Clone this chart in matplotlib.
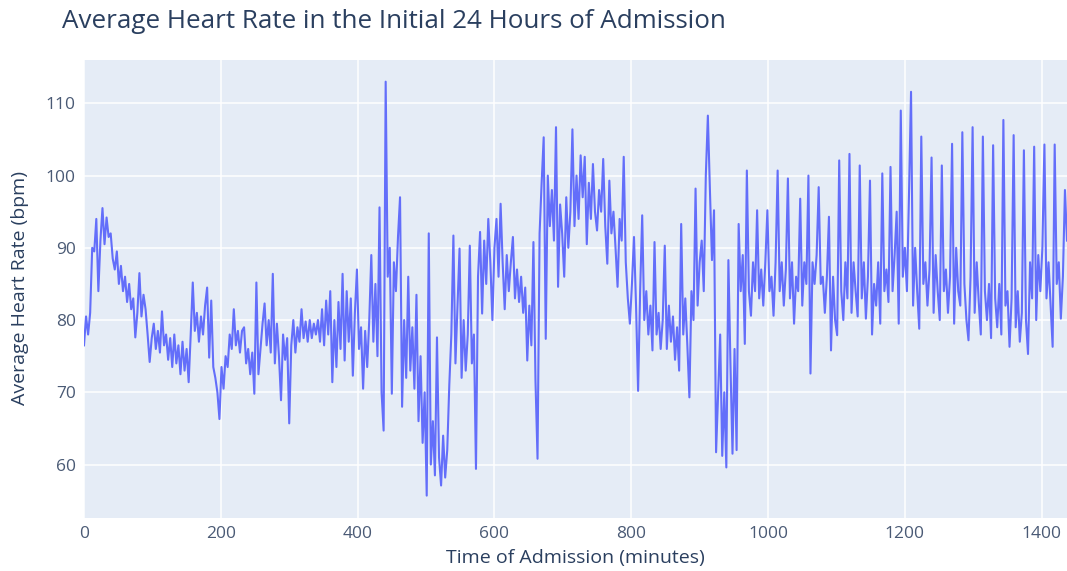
import matplotlib
matplotlib.use("Agg")
import matplotlib.pyplot as plt

minutes = list(range(0, 1440, 3))

hr_hours_0_4 = [
    76.5, 80.5, 78.0, 81.0, 90.0, 89.5, 94.0, 84.0, 91.0, 95.5,
    90.5, 94.2, 91.5, 92.0, 88.5, 87.0, 89.5, 85.0, 87.5, 84.0,
    86.0, 82.5, 85.0, 81.5, 83.0, 77.6, 81.0, 86.5, 80.5, 83.5,
    81.5, 78.0, 74.2, 77.5, 79.5, 76.0, 78.5, 75.5, 81.2, 76.5,
    78.0, 74.5, 77.5, 73.5, 78.0, 74.0, 76.5, 72.5, 77.0, 73.0,
    76.0, 71.4, 78.0, 85.2, 78.5, 81.0, 77.0, 80.5, 78.0, 82.0,
    84.5, 74.8, 82.7, 73.5, 72.0, 70.0, 66.3, 73.5, 70.5, 75.0,
    73.5, 78.0, 76.0, 81.5, 76.5, 78.5, 75.5, 78.5, 79.0, 74.0,
]
hr_hours_4_8 = [
    76.0, 72.5, 75.5, 69.8, 85.2, 72.5, 76.0, 79.5, 82.3, 76.5,
    80.0, 75.5, 86.4, 74.0, 79.5, 75.0, 68.9, 78.0, 74.5, 77.5,
    65.7, 76.5, 80.0, 75.5, 79.0, 77.0, 81.5, 77.5, 79.8, 77.0,
    80.0, 77.5, 79.5, 78.0, 80.0, 77.0, 81.5, 76.5, 82.7, 78.0,
    84.0, 71.4, 80.0, 73.5, 82.5, 76.0, 86.4, 74.4, 84.0, 77.0,
    83.0, 72.3, 81.0, 87.0, 76.0, 79.0, 70.5, 78.5, 73.5, 80.0,
    89.0, 77.0, 85.0, 75.0, 95.6, 70.0, 64.7, 113.0, 86.0, 90.0,
    69.8, 88.0, 84.0, 91.5, 97.0, 68.0, 80.0, 72.0, 86.0, 73.0,
]
hr_hours_8_12 = [
    79.0, 70.5, 83.5, 66.0, 75.0, 63.0, 70.0, 55.7, 92.0, 60.0,
    66.0, 58.5, 77.6, 61.0, 57.1, 64.0, 58.2, 62.0, 71.0, 78.0,
    91.7, 74.0, 82.0, 89.9, 72.0, 80.0, 73.0, 78.0, 90.3, 74.0,
    78.0, 59.4, 86.0, 92.2, 80.9, 91.0, 85.0, 94.0, 88.0, 80.0,
    90.0, 94.0, 86.0, 96.1, 88.0, 81.5, 89.0, 84.0, 88.0, 91.5,
    83.0, 87.0, 82.5, 86.0, 81.0, 84.5, 74.4, 82.0, 76.5, 90.8,
    71.6, 60.8, 92.0, 99.0, 105.3, 77.4, 100.0, 93.0, 98.0, 91.0,
    106.7, 84.6, 96.0, 92.0, 86.0, 97.0, 90.0, 95.0, 106.4, 93.0,
]
hr_hours_12_16 = [
    100.0, 94.0, 102.8, 97.0, 102.6, 90.5, 99.0, 94.0, 101.6, 95.0,
    92.4, 98.0, 95.0, 102.3, 93.0, 87.8, 99.3, 92.0, 95.0, 90.0,
    84.6, 94.0, 91.0, 102.6, 88.0, 83.0, 79.5, 85.0, 91.5, 82.0,
    70.2, 84.0, 94.5, 80.0, 84.0, 78.0, 82.0, 75.8, 90.8, 78.0,
    81.0, 76.0, 80.0, 90.3, 76.0, 82.0, 77.0, 80.5, 74.5, 79.0,
    73.0, 93.3, 78.0, 83.0, 76.5, 69.3, 84.0, 80.0, 98.2, 82.0,
    88.0, 91.0, 84.0, 100.0, 108.3, 98.0, 88.3, 95.2, 61.7, 70.0,
    78.0, 61.2, 70.0, 59.6, 88.3, 74.0, 61.5, 76.0, 62.0, 93.3,
]
hr_hours_16_20 = [
    84.0, 89.0, 76.7, 100.7, 84.0, 80.6, 88.0, 84.0, 95.2, 83.0,
    87.0, 82.0, 88.0, 95.2, 84.0, 86.0, 80.6, 88.0, 100.7, 84.0,
    88.0, 82.0, 87.0, 99.6, 83.0, 88.0, 79.5, 86.0, 84.0, 96.8,
    82.0, 88.0, 85.0, 100.0, 72.6, 88.0, 85.0, 89.0, 98.4, 85.0,
    86.0, 81.0, 86.0, 94.3, 75.8, 86.0, 80.0, 77.9, 102.1, 84.0,
    80.0, 88.0, 83.0, 103.0, 81.0, 88.0, 84.0, 80.5, 101.4, 83.0,
    88.0, 80.2, 86.0, 99.3, 78.0, 85.0, 82.0, 88.0, 79.5, 100.3,
    84.0, 87.0, 82.5, 101.2, 84.0, 89.0, 95.0, 79.5, 109.0, 86.0,
]
hr_hours_20_24 = [
    90.0, 84.0, 97.3, 111.6, 82.0, 90.0, 84.0, 78.8, 105.4, 85.0,
    88.0, 82.0, 87.0, 102.5, 81.0, 89.0, 84.0, 80.0, 101.4, 84.0,
    87.0, 81.0, 86.0, 104.4, 79.5, 90.0, 84.0, 82.0, 106.0, 85.0,
    80.0, 77.2, 86.0, 106.7, 81.0, 88.0, 82.5, 78.0, 105.4, 84.0,
    80.0, 85.0, 77.5, 104.2, 83.0, 79.0, 85.0, 78.0, 107.7, 82.0,
    84.0, 76.3, 83.0, 105.6, 79.0, 84.0, 77.0, 81.0, 103.5, 80.0,
    75.3, 88.0, 83.0, 104.0, 80.0, 89.0, 84.0, 90.0, 104.3, 83.0,
    88.0, 82.0, 76.3, 104.3, 85.0, 88.0, 80.2, 86.0, 98.0, 91.0,
]

avg_hr = (hr_hours_0_4 + hr_hours_4_8 + hr_hours_8_12
          + hr_hours_12_16 + hr_hours_16_20 + hr_hours_20_24)

x_ticks = [0, 200, 400, 600, 800, 1000, 1200, 1400]
y_ticks = [60, 70, 80, 90, 100, 110]

TEXT = "#2a3f5f"
plt.rcParams["font.family"] = ["Open Sans", "DejaVu Sans"]

fig = plt.figure(figsize=(10.67, 5.71), dpi=100)
ax = fig.add_axes([84 / 1067, 1 - 518 / 571, (1067 - 84) / 1067, (518 - 60) / 571])
ax.set_facecolor("#E5ECF6")
ax.plot(minutes, avg_hr, color="#636EFA", lw=1.5, zorder=3)

ax.set_xlim(0, minutes[-1])
ax.set_ylim(52.6, 116)
ax.set_xticks(x_ticks)
ax.set_yticks(y_ticks)
ax.grid(True, color="white", lw=1.1, zorder=0)
ax.set_axisbelow(True)
for s in ax.spines.values():
    s.set_visible(False)
ax.tick_params(length=0, labelsize=12.5, labelcolor="#4a5a75", pad=6)

fig.text(62 / 1067, 1 - 21 / 571, "Average Heart Rate in the Initial 24 Hours of Admission",
         ha="left", va="center", fontsize=18.7, color=TEXT)
fig.text(575 / 1067, 1 - 558 / 571, "Time of Admission (minutes)",
         ha="center", va="center", fontsize=14, color=TEXT)
fig.text(20 / 1067, 1 - 288 / 571, "Average Heart Rate (bpm)",
         ha="center", va="center", rotation=90, fontsize=14, color=TEXT)

fig.savefig("out.png", dpi=100)
